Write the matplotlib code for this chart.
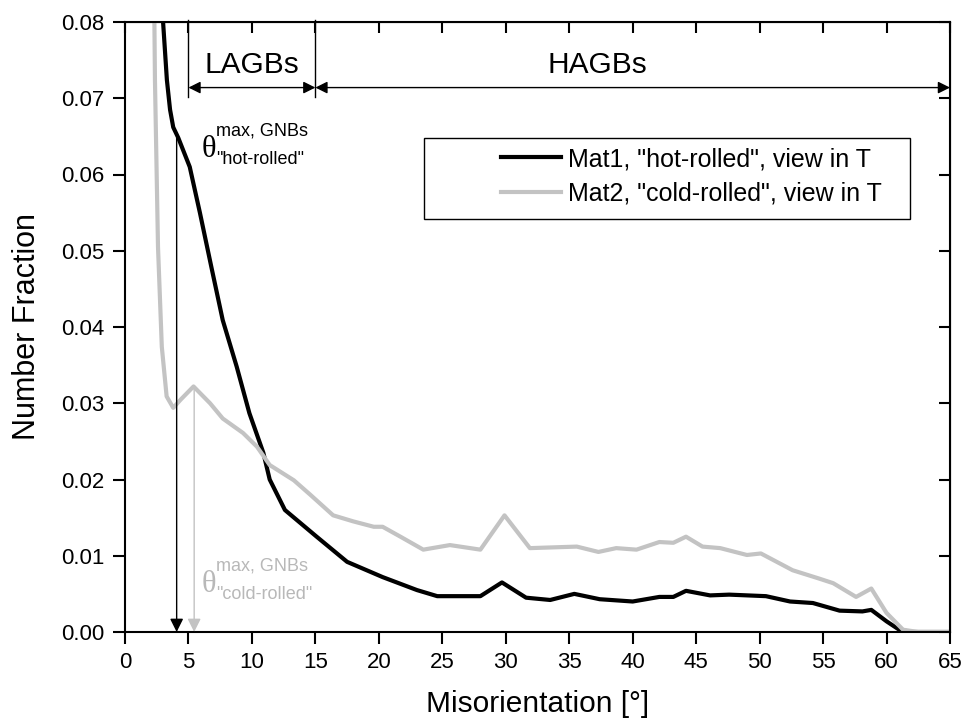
import numpy as np
import matplotlib.pyplot as plt
from matplotlib.patches import Rectangle

plt.rcParams['font.family'] = ['Liberation Sans', 'DejaVu Sans']

# Mat1, "hot-rolled"
x_hot = [2.6, 3.0, 3.3, 3.55, 3.8, 4.2, 5.1, 5.9, 6.8, 7.7, 8.8, 9.8, 10.9, 11.4, 12.6,
         15.1, 17.5, 20.3, 23.0, 24.6, 28.0, 29.7, 31.6, 33.5, 35.4, 37.4, 40.0,
         42.1, 43.2, 44.2, 46.1, 47.6, 50.5, 52.4, 54.2, 56.3, 58.1, 58.8, 60.0,
         61.0, 62.0, 65.0]
y_hot = [0.100, 0.080, 0.0724, 0.0685, 0.0662, 0.0648, 0.0610, 0.0550, 0.0479,
         0.0409, 0.0348, 0.0287, 0.0235, 0.0200, 0.0160, 0.0125, 0.0092, 0.0072,
         0.0055, 0.0047, 0.0047, 0.0065, 0.0045, 0.0042, 0.0050, 0.0043, 0.0040,
         0.0046, 0.0046, 0.0054, 0.0048, 0.0049, 0.0047, 0.0040, 0.0038, 0.0028,
         0.0027, 0.0029, 0.0014, 0.0003, 0.0, 0.0]

# Mat2, "cold-rolled"
x_cold = [2.2, 2.36, 2.6, 2.9, 3.28, 3.8, 4.4, 5.4, 6.7, 7.7, 9.3, 10.4, 11.4, 13.3,
          14.6, 16.4, 18.0, 19.6, 20.3, 21.7, 23.5, 25.6, 28.0, 29.9, 31.9, 35.6,
          37.3, 38.7, 40.3, 42.1, 43.2, 44.2, 45.5, 46.9, 49.0, 50.1, 52.6, 54.7,
          55.8, 57.6, 58.8, 60.0, 61.3, 62.5, 65.0]
y_cold = [0.100, 0.0724, 0.0505, 0.0374, 0.0309, 0.0294, 0.0305, 0.0322, 0.0300,
          0.0280, 0.0261, 0.0243, 0.0219, 0.0199, 0.0180, 0.0153, 0.0145, 0.0138,
          0.0138, 0.0125, 0.0108, 0.0114, 0.0108, 0.0153, 0.0110, 0.0112, 0.0105,
          0.0110, 0.0108, 0.0118, 0.0117, 0.0125, 0.0112, 0.0110, 0.0101, 0.0103,
          0.0081, 0.0070, 0.0064, 0.0046, 0.0057, 0.0025, 0.0003, 0.0, 0.0]

# maximum GNB misorientation for each state
theta_hot = (4.07, 0.0648)
theta_cold = (5.45, 0.0322)

gray = '#c3c3c3'

fig = plt.figure(figsize=(9.67, 7.26), dpi=100)
ax = fig.add_axes([125 / 967, 94 / 726, 825 / 967, 610 / 726])

ax.plot(x_hot, y_hot, color='black', lw=3, label='Mat1, "hot-rolled", view in T')
ax.plot(x_cold, y_cold, color=gray, lw=3, label='Mat2, "cold-rolled", view in T')

ax.set_xlim(0, 65)
ax.set_ylim(0, 0.08)
ax.set_xticks(np.arange(0, 66, 5))
ax.set_yticks(np.arange(0, 0.081, 0.01))
ax.yaxis.set_major_formatter(plt.FormatStrFormatter('%.2f'))
ax.tick_params(axis='both', which='major', labelsize=16, width=1.5, length=8.5,
               pad=6, direction='out', top=False, right=False)
for s in ax.spines.values():
    s.set_linewidth(1.5)
# inward ticks on top and right
axt = ax.secondary_xaxis('top')
axt.set_xticks(np.arange(0, 66, 5))
axt.tick_params(direction='in', length=8, width=1.5, labeltop=False)
axr = ax.secondary_yaxis('right')
axr.set_yticks(np.arange(0, 0.081, 0.01))
axr.tick_params(direction='in', length=8, width=1.5, labelright=False)

ax.set_xlabel('Misorientation [°]', fontsize=21.5, labelpad=12)
ax.set_ylabel('Number Fraction', fontsize=22, labelpad=14)

# LAGB / HAGB ranges
y_br = 0.0714
for xv in (5, 15):
    ax.plot([xv, xv], [0.0803, 0.0701], color='black', lw=1, clip_on=False)
arr = dict(arrowstyle='<|-|>', color='black', lw=1, mutation_scale=18,
           shrinkA=0, shrinkB=0)
ax.annotate('', xy=(5, y_br), xytext=(15, y_br), arrowprops=arr)
ax.annotate('', xy=(15, y_br), xytext=(65, y_br), arrowprops=arr, annotation_clip=False)
ax.text(10, 0.0744, 'LAGBs', fontsize=21.5, ha='center', va='center')
ax.text(37.2, 0.0744, 'HAGBs', fontsize=21.5, ha='center', va='center')

# arrows marking theta max
for (tx, ty), c in ((theta_hot, 'black'), (theta_cold, gray)):
    ax.annotate('', xy=(tx, 0), xytext=(tx, ty),
                arrowprops=dict(arrowstyle='-|>', color=c, lw=1, mutation_scale=20,
                                shrinkA=0, shrinkB=0))

def theta_label(x, y, sub, color):
    ax.text(x, y, 'θ', fontsize=22, family='Liberation Serif', color=color,
            ha='left', va='center')
    ax.text(x + 1.15, y + 0.0013, 'max, GNBs', fontsize=13, color=color,
            ha='left', va='bottom')
    ax.text(x + 1.15, y - 0.0002, sub, fontsize=13, color=color,
            ha='left', va='top')

theta_label(6.0, 0.0633, '"hot-rolled"', 'black')
theta_label(6.0, 0.0062, '"cold-rolled"', '#b8b8b8')

# legend with wide frame
ax.add_patch(Rectangle((0.362, 0.677), 0.589, 0.133, transform=ax.transAxes,
                       fill=False, lw=1, edgecolor='black', zorder=5))
ax.legend(loc='upper right', bbox_to_anchor=(0.918, 0.795), frameon=False,
          borderpad=0, borderaxespad=0, fontsize=18, handlelength=2.4,
          handletextpad=0.3, labelspacing=0.42)

fig.savefig('out.png', dpi=100)
